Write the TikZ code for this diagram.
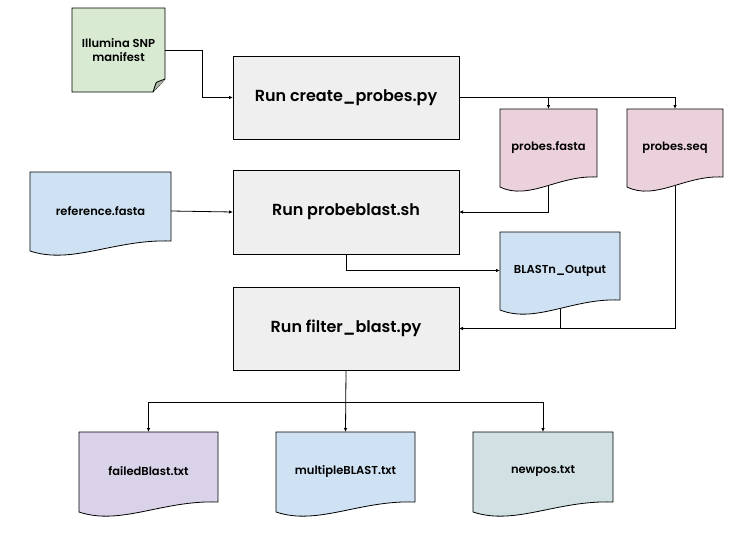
\documentclass[tikz,border=0pt]{standalone}
\usepackage{fontspec}
\setmainfont{Poppins}[BoldFont={Poppins SemiBold}]
\usetikzlibrary{arrows.meta,backgrounds,calc}
\definecolor{boxgray}{HTML}{EFEFEF}
\definecolor{notegreen}{HTML}{D9EAD3}
\definecolor{foldgreen}{HTML}{A9B5A4}
\definecolor{docpink}{HTML}{EAD1DC}
\definecolor{docblue}{HTML}{CFE2F3}
\definecolor{docpurple}{HTML}{D9D2E9}
\definecolor{docteal}{HTML}{D0E0E3}
\tikzset{
  procbox/.style={draw=black, line width=0.8pt, fill=boxgray, inner sep=0pt, outer sep=0pt,
    font=\fontsize{16}{19}\selectfont\bfseries},
  doctext/.style={inner sep=0pt, outer sep=0pt, font=\fontsize{11.5}{14}\selectfont\bfseries},
  docline/.style={draw=black, line width=0.8pt},
  conn/.style={draw=black, line width=0.8pt},
  arr/.style={conn, -{Latex[length=4pt,width=3.5pt]}}
}
% #1 name, #2 x0, #3 top, #4 x1, #5 left-bottom y, #6 colour, #7 text
\newcommand{\docnode}[7]{%
  \begin{scope}[on background layer]
    \filldraw[docline, fill=#6] (#2,#3) -- (#4,#3) -- (#4,#5-10)
      .. controls ({#2+0.6*(#4-#2)},#5-12) and ({#2+0.3*(#4-#2)},#5+14) .. (#2,#5) -- cycle;
  \end{scope}
  \node[doctext, minimum width={(#4-#2)*1pt}, minimum height={(#5-1-#3)*1pt}]
    (#1) at ({(#2+#4)/2},{(#3+#5-1)/2}) {#7};
}
\begin{document}
\begin{tikzpicture}[x=1pt,y=-1pt]
\useasboundingbox (0,0) rectangle (739,538);

% note
\begin{scope}[on background layer]
  \filldraw[docline, fill=notegreen] (72,8) -- (165,8) -- (165,79) -- (153,92) -- (72,92) -- cycle;
  \filldraw[docline, fill=foldgreen] (165,79) .. controls (160,81) and (156,82) .. (156,83) .. controls (155,86) and (154,89) .. (153,92);
\end{scope}
\node[doctext, align=center, minimum width=93pt, minimum height=84pt] (man) at (118.5,50) {Illumina SNP\\manifest};

% process boxes
\node[procbox, minimum width=226pt, minimum height=83pt] (cp) at (346,97.5) {Run create\_probes.py};
\node[procbox, minimum width=226pt, minimum height=84pt] (pb) at (346,212) {Run probeblast.sh};
\node[procbox, minimum width=226pt, minimum height=83pt] (fb) at (346,328.5) {Run filter\_blast.py};

% documents
\docnode{fasta}{500}{109}{597}{187}{docpink}{probes.fasta}
\docnode{seq}{627}{109}{723}{187}{docpink}{probes.seq}
\docnode{ref}{30}{172}{171}{251}{docblue}{reference.fasta}
\docnode{blast}{500}{232}{620}{310}{docblue}{BLASTn\_Output}
\docnode{failed}{79}{432}{218}{512}{docpurple}{failedBlast.txt}
\docnode{multi}{276}{432}{415}{512}{docblue}{multipleBLAST.txt}
\docnode{newpos}{473}{432}{613}{512}{docteal}{newpos.txt}

% connectors
\draw[arr] (man.east) -- ++(37,0) |- (cp.west);
\draw[arr] (cp.east) -| (seq.north);
\draw[arr] (fasta.north |- cp.east) -- (fasta.north);
\draw[arr] (ref.east) -- (pb.west);
\draw[arr] (fasta.south) |- (pb.east);
\draw[arr] (pb.south) |- (blast.west);
\draw[arr] (seq.south) |- (fb.east);
\draw[conn] (blast.south) -- (blast.south |- fb.east);
\coordinate (split) at ($(fb.south)+(0,32)$);
\draw[arr] (fb.south) -- (multi.north);
\draw[arr] (split) -| (failed.north);
\draw[arr] (split) -| (newpos.north);
\end{tikzpicture}
\end{document}
